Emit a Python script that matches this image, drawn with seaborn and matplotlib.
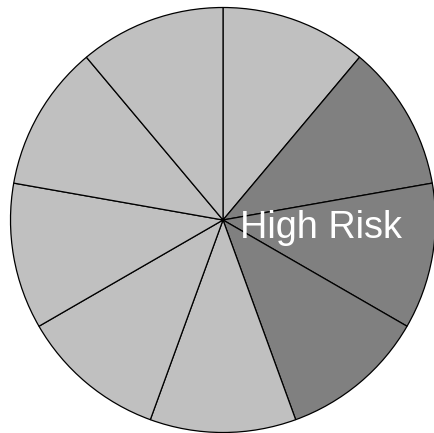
import matplotlib
matplotlib.use("Agg")
import matplotlib.pyplot as plt
import seaborn as sns

# Data
segments = ["S1", "S2", "S3", "S4", "S5", "S6", "S7", "S8", "S9"]
values = [1, 1, 1, 1, 1, 1, 1, 1, 1]
risk_group = ["low", "high", "high", "high", "low", "low", "low", "low", "low"]
label_text = "High Risk"

sns.set_style("white")
plt.rcParams['font.family'] = ['Liberation Sans', 'DejaVu Sans']

W, H = 435, 433
fig = plt.figure(figsize=(W / 100, H / 100), dpi=100)
cx, cy, r = 223.0, 220.0, 212.5
ax = fig.add_axes([(cx - r) / W, (H - cy - r) / H, 2 * r / W, 2 * r / H])

palette = {"low": "#c0c0c0", "high": "#808080"}
colors = [palette[g] for g in risk_group]

wedges, _ = ax.pie(values, colors=colors, startangle=90, counterclock=False,
                   radius=1, frame=True,
                   wedgeprops=dict(edgecolor="black", linewidth=0.9))
for w in wedges:
    w.set_clip_on(False)
ax.axis("off")
ax.set_xlim(-1, 1)
ax.set_ylim(-1, 1)

ax.text(0.08, -0.085, label_text, color="white", fontsize=27.3,
        ha="left", va="baseline")

fig.savefig("out.png", dpi=100)
